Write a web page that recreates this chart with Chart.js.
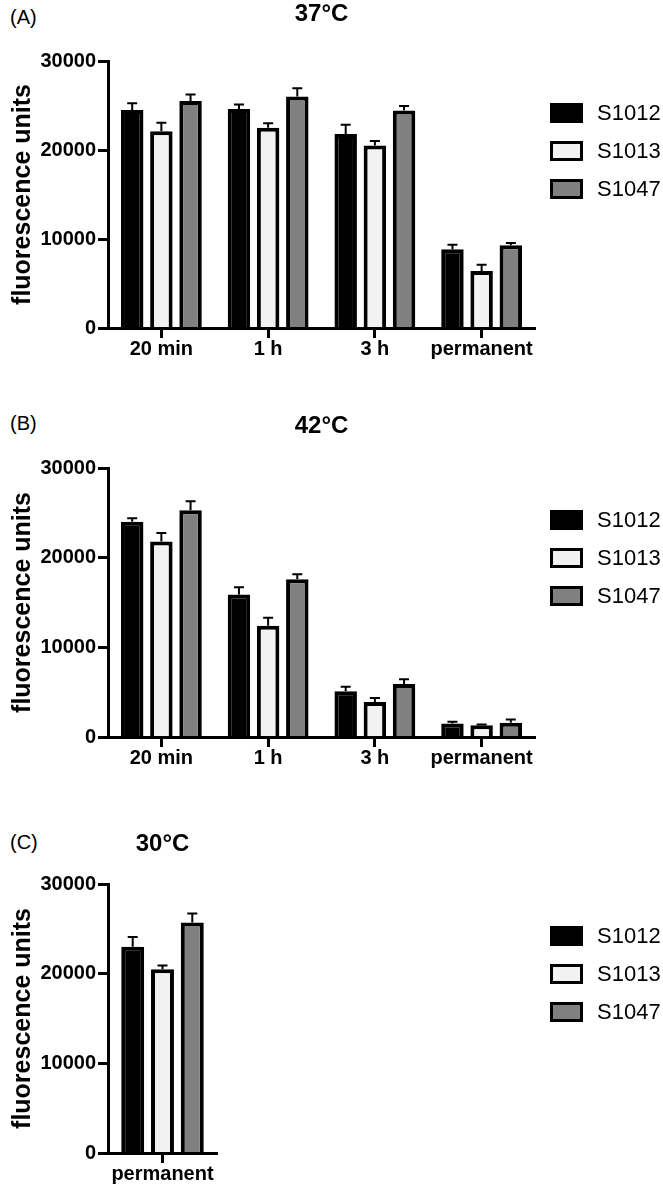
<!DOCTYPE html>
<html>
<head>
<meta charset="utf-8">
<script src="https://cdn.jsdelivr.net/npm/chart.js@4.4.0/dist/chart.umd.min.js"></script>
<style>
body { margin: 0; background: #fff; width: 663px; height: 1191px; position: relative; overflow: hidden; font-family: "Liberation Sans", Arial, sans-serif; }
canvas { position: absolute; left: 0; }
.tag { position: absolute; left: 10px; font-size: 20px; line-height: 20px; color: #000; }
</style>
</head>
<body>
<div class="tag" style="top:7px">(A)</div>
<div class="tag" style="top:413px">(B)</div>
<div class="tag" style="top:832px">(C)</div>
<canvas id="chartA" width="663" height="395" style="top:0px"></canvas>
<canvas id="chartB" width="663" height="395" style="top:400px"></canvas>
<canvas id="chartC" width="663" height="391" style="top:800px"></canvas>
<script>
// strains and their fill colours
var strains = ["S1012", "S1013", "S1047"];
var fills = ["#000000", "#f2f2f2", "#808080"];

var times = ["20 min", "1 h", "3 h", "permanent"];
var timesC = ["permanent"];
var yTicks = [0, 10000, 20000, 30000];

// (A) 37°C
var s1012_37 = [24500, 24600, 21800, 8850];
var s1013_37 = [22100, 22500, 20500, 6400];
var s1047_37 = [25500, 26000, 24450, 9300];
var err1012_37 = [750, 500, 1050, 500];
var err1013_37 = [950, 500, 500, 700];
var err1047_37 = [750, 950, 500, 250];

// (B) 42°C
var s1012_42 = [24000, 15900, 5100, 1500];
var s1013_42 = [21800, 12400, 3900, 1300];
var s1047_42 = [25300, 17600, 5900, 1600];
var err1012_42 = [400, 800, 500, 200];
var err1013_42 = [950, 900, 450, 100];
var err1047_42 = [1000, 550, 550, 350];

// (C) 30°C
var s1012_30 = [23000];
var s1013_30 = [20500];
var s1047_30 = [25700];
var err1012_30 = [1100];
var err1013_30 = [400];
var err1047_30 = [1000];

var font = "'Liberation Sans', Arial, sans-serif";

// draws mean + SD caps on top of each bar
var errorBars = {
	id: "errorBars",
	afterDatasetsDraw: function(chart) {
		var ctx = chart.ctx;
		var y = chart.scales.y;
		chart.data.datasets.forEach(function(ds, i) {
			var meta = chart.getDatasetMeta(i);
			meta.data.forEach(function(bar, j) {
				var top = y.getPixelForValue(ds.data[j] + ds.errors[j]);
				ctx.save();
				ctx.strokeStyle = "#000";
				ctx.lineWidth = 2;
				ctx.beginPath();
				ctx.moveTo(bar.x, bar.y);
				ctx.lineTo(bar.x, top);
				ctx.moveTo(bar.x - 5, top);
				ctx.lineTo(bar.x + 5, top);
				ctx.stroke();
				ctx.restore();
			});
		});
	}
};

// legend on the right, always at the same x
var sideLegend = {
	id: "sideLegend",
	afterDraw: function(chart) {
		var ctx = chart.ctx;
		var top = chart.chartArea.top + 52;
		chart.data.datasets.forEach(function(ds, i) {
			var cy = top + i * 38;
			ctx.save();
			ctx.fillStyle = "#000";
			ctx.fillRect(550, cy - 10, 33, 20);
			ctx.fillStyle = ds.backgroundColor;
			ctx.fillRect(553, cy - 7, 27, 14);
			ctx.fillStyle = "#000";
			ctx.font = "22px " + font;
			ctx.textBaseline = "middle";
			ctx.fillText(ds.label, 597, cy + 1);
			ctx.restore();
		});
	}
};

function makeChart(id, labels, values, errors, title, lay) {
	var datasets = [];
	for (var i = 0; i < strains.length; i++) {
		datasets.push({
			label: strains[i],
			data: values[i],
			errors: errors[i],
			backgroundColor: fills[i],
			borderColor: "#000",
			borderWidth: 4,
			categoryPercentage: 0.82,
			barPercentage: 0.77
		});
	}
	return new Chart(document.getElementById(id), {
		type: "bar",
		data: { labels: labels, datasets: datasets },
		options: {
			responsive: false,
			animation: false,
			layout: { padding: { left: 0, right: lay.padRight, top: 0, bottom: 0 } },
			plugins: {
				legend: { display: false },
				tooltip: { enabled: false },
				title: {
					display: true,
					text: title,
					fullSize: false,
					color: "#000",
					font: { family: font, size: 24, weight: "bold", lineHeight: 1.2 },
					padding: { top: lay.titleTop, bottom: lay.titleBottom }
				}
			},
			scales: {
				x: {
					afterFit: function(scale) { scale.height = lay.xHeight; },
					grid: { display: true, drawOnChartArea: false, drawTicks: true, offset: false, tickLength: 10, tickWidth: 3, tickColor: "#000" },
					border: { display: true, color: "#000", width: 3, z: 1 },
					ticks: { color: "#000", padding: -1, autoSkip: false, maxRotation: 0, font: { family: font, size: 20, weight: "bold" } }
				},
				y: {
					min: 0,
					max: 30000,
					afterFit: function(scale) { scale.width = 108; },
					afterBuildTicks: function(scale) {
						scale.ticks = yTicks.map(function(v) { return { value: v }; });
					},
					grid: { display: true, drawOnChartArea: false, drawTicks: true, tickLength: 10, tickWidth: 3, tickColor: "#000" },
					border: { display: true, color: "#000", width: 3 },
					ticks: {
						color: "#000",
						padding: 2,
						font: { family: font, size: 20, weight: "bold" },
						callback: function(v) { return String(v); }
					},
					title: {
						display: true,
						text: "fluorescence units",
						color: "#000",
						font: { family: font, size: 25, weight: "bold", lineHeight: 1.2 },
						padding: { top: 8, bottom: 0 }
					}
				}
			}
		},
		plugins: [errorBars, sideLegend]
	});
}

makeChart("chartA", times,
	[s1012_37, s1013_37, s1047_37],
	[err1012_37, err1013_37, err1047_37],
	"37°C", { titleTop: 0, titleBottom: 32.2, xHeight: 67, padRight: 128 });

makeChart("chartB", times,
	[s1012_42, s1013_42, s1047_42],
	[err1012_42, err1013_42, err1047_42],
	"42°C", { titleTop: 11.6, titleBottom: 27.6, xHeight: 58, padRight: 128 });

makeChart("chartC", timesC,
	[s1012_30, s1013_30, s1047_30],
	[err1012_30, err1013_30, err1047_30],
	"30°C", { titleTop: 29.6, titleBottom: 25.6, xHeight: 38, padRight: 446 });
</script>
</body>
</html>
